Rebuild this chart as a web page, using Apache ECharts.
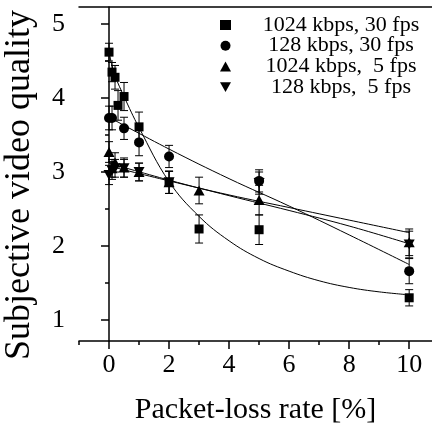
<!DOCTYPE html>
<html>
<head>
<meta charset="utf-8">
<script src="https://cdn.jsdelivr.net/npm/echarts@6/dist/echarts.min.js"></script>
<style>
  html, body { margin: 0; padding: 0; background: #fff; }
  #chart { width: 432px; height: 429px; }
</style>
</head>
<body>
<div id="chart"></div>
<script>
// series names, as in the legend
var names = ['1024 kbps, 30 fps', '128 kbps, 30 fps', '1024 kbps,  5 fps', '128 kbps,  5 fps'];

// measured points: x = packet loss [%], y = quality, err = half error bar
var x1 = [0, 0.1, 0.2, 0.3, 0.5, 1, 2, 3, 5, 10];
var y1 = [4.62, 4.35, 4.28, 3.90, 4.02, 3.61, 2.86, 2.23, 2.22, 1.30];
var e1 = [0.12, 0.13, 0.16, 0.2, 0.19, 0.2, 0.15, 0.19, 0.2, 0.11];

var x2 = [0, 0.1, 0.5, 1, 2, 5, 10];
var y2 = [3.73, 3.73, 3.59, 3.40, 3.21, 2.88, 1.66];
var e2 = [0.16, 0.16, 0.15, 0.18, 0.15, 0.15, 0.17];

var x3 = [0, 0.1, 0.2, 0.5, 1, 2, 3, 5, 10];
var y3 = [3.27, 3.05, 3.13, 3.06, 3.00, 2.86, 2.75, 2.62, 2.05];
var e3 = [0.14, 0.12, 0.13, 0.13, 0.12, 0.15, 0.18, 0.2, 0.18];

var x4 = [0, 0.1, 0.2, 0.5, 1, 2, 5, 10];
var y4 = [2.96, 3.02, 3.05, 3.05, 3.00, 2.86, 2.85, 2.02];
var e4 = [0.13, 0.12, 0.12, 0.12, 0.12, 0.15, 0.15, 0.18];

// fitted curves
var fx1 = [0, 0.1, 0.2, 0.5, 1, 2, 3, 4, 5, 6, 7, 8, 9, 10];
var fy1 = [4.62, 4.44, 4.30, 4.02, 3.60, 2.87, 2.40, 2.07, 1.83, 1.66, 1.53, 1.44, 1.38, 1.34];
var fx2 = [0, 2, 4, 6, 8, 10];
var fy2 = [3.74, 3.31, 2.91, 2.54, 2.15, 1.75];
var fx3 = [0, 2, 4, 6, 8, 10];
var fy3 = [3.12, 2.89, 2.68, 2.48, 2.27, 2.03];
var fx4 = [0, 2, 4, 6, 8, 10];
var fy4 = [3.08, 2.88, 2.69, 2.52, 2.35, 2.18];

// ticks
var xMajor = [0, 2, 4, 6, 8, 10];
var xMinor = [-1, 1, 3, 5, 7, 9];
var yMajor = [1, 2, 3, 4, 5];
var yMinor = [1.5, 2.5, 3.5, 4.5];

var FONT = '"Liberation Serif", "Times New Roman", serif';
var downTri = 'path://M0,0 L10,0 L5,9 Z';

function zip(xs, ys) { return xs.map(function (x, i) { return [x, ys[i]]; }); }
function bars(xs, ys, es) { return xs.map(function (x, i) { return [x, ys[i] - es[i], ys[i] + es[i]]; }); }

function errSeries(data) {
  return {
    type: 'custom',
    silent: true,
    z: 2,
    encode: { x: 0, y: [1, 2] },
    data: data,
    renderItem: function (params, api) {
      var lo = api.coord([api.value(0), api.value(1)]);
      var hi = api.coord([api.value(0), api.value(2)]);
      var w = 4;
      var st = { stroke: '#000', lineWidth: 1 };
      return {
        type: 'group',
        children: [
          { type: 'line', shape: { x1: lo[0], y1: lo[1], x2: hi[0], y2: hi[1] }, style: st },
          { type: 'line', shape: { x1: lo[0] - w, y1: lo[1], x2: lo[0] + w, y2: lo[1] }, style: st },
          { type: 'line', shape: { x1: hi[0] - w, y1: hi[1], x2: hi[0] + w, y2: hi[1] }, style: st }
        ]
      };
    }
  };
}

function fitSeries(id, data) {
  return {
    name: id, type: 'line', smooth: 0.4, showSymbol: false, silent: true, z: 1,
    lineStyle: { color: '#000', width: 1 }, data: data
  };
}

function pointSeries(name, data, symbol, size) {
  return {
    name: name, type: 'scatter', symbol: symbol, symbolSize: size, z: 3,
    itemStyle: { color: '#000', opacity: 1 }, data: data
  };
}

var axisLine = { show: true, lineStyle: { color: '#000', width: 1.5 } };

var option = {
  animation: false,
  backgroundColor: '#fff',
  grid: { left: 79, right: 0, top: 7, bottom: 88, containLabel: false, outerBoundsMode: 'none' },
  legend: {
    data: names,
    orient: 'vertical',
    left: 215, top: 9,
    itemWidth: 11, itemHeight: 10, itemGap: -1.3,
    selectedMode: false,
    itemStyle: { opacity: 1 },
    formatter: function (n) { return '{t|' + n + '}'; },
    textStyle: {
      color: '#000', fontFamily: FONT, fontSize: 22,
      rich: { t: { width: 210, align: 'center', fontFamily: FONT, fontSize: 22, lineHeight: 20, color: '#000' } }
    }
  },
  xAxis: [
    {
      type: 'value', min: -1, max: 10.76, position: 'bottom',
      name: 'Packet-loss rate [%]', nameLocation: 'middle', nameGap: 54,
      nameTextStyle: { color: '#000', fontFamily: FONT, fontSize: 30 },
      axisLine: axisLine,
      axisTick: { show: true, inside: false, length: 8, customValues: xMajor, lineStyle: { color: '#000', width: 1.5 } },
      axisLabel: { color: '#000', fontFamily: FONT, fontSize: 26, margin: 11, customValues: xMajor },
      splitLine: { show: false }
    },
    {
      type: 'value', min: -1, max: 10.76, position: 'bottom',
      axisLine: { show: false },
      axisTick: { show: true, inside: false, length: 4, customValues: xMinor, lineStyle: { color: '#000', width: 1.5 } },
      axisLabel: { show: false },
      splitLine: { show: false }
    },
    {
      type: 'value', min: -1, max: 10.76, position: 'top',
      axisLine: axisLine, axisTick: { show: false }, axisLabel: { show: false }, splitLine: { show: false }
    }
  ],
  yAxis: [
    {
      type: 'value', min: 0.716, max: 5.23, position: 'left',
      name: 'Subjective video quality', nameLocation: 'middle', nameGap: 41, nameRotate: 90,
      nameTextStyle: { color: '#000', fontFamily: FONT, fontSize: 36, padding: [0, 22, 0, 0] },
      axisLine: axisLine,
      axisTick: { show: true, inside: false, length: 8, customValues: yMajor, lineStyle: { color: '#000', width: 1.5 } },
      axisLabel: { color: '#000', fontFamily: FONT, fontSize: 26, margin: 14, customValues: yMajor },
      splitLine: { show: false }
    },
    {
      type: 'value', min: 0.716, max: 5.23, position: 'left',
      axisLine: { show: false },
      axisTick: { show: true, inside: false, length: 4, customValues: yMinor, lineStyle: { color: '#000', width: 1.5 } },
      axisLabel: { show: false },
      splitLine: { show: false }
    }
  ],
  series: [
    fitSeries('fit1', zip(fx1, fy1)),
    fitSeries('fit2', zip(fx2, fy2)),
    fitSeries('fit3', zip(fx3, fy3)),
    fitSeries('fit4', zip(fx4, fy4)),
    errSeries(bars(x1, y1, e1)),
    errSeries(bars(x2, y2, e2)),
    errSeries(bars(x3, y3, e3)),
    errSeries(bars(x4, y4, e4)),
    pointSeries(names[0], zip(x1, y1), 'rect', 9),
    pointSeries(names[1], zip(x2, y2), 'circle', 10),
    pointSeries(names[2], zip(x3, y3), 'triangle', [11, 10]),
    pointSeries(names[3], zip(x4, y4), downTri, [11, 10])
  ]
};

var chart = echarts.init(document.getElementById('chart'));
chart.setOption(option);
</script>
</body>
</html>
